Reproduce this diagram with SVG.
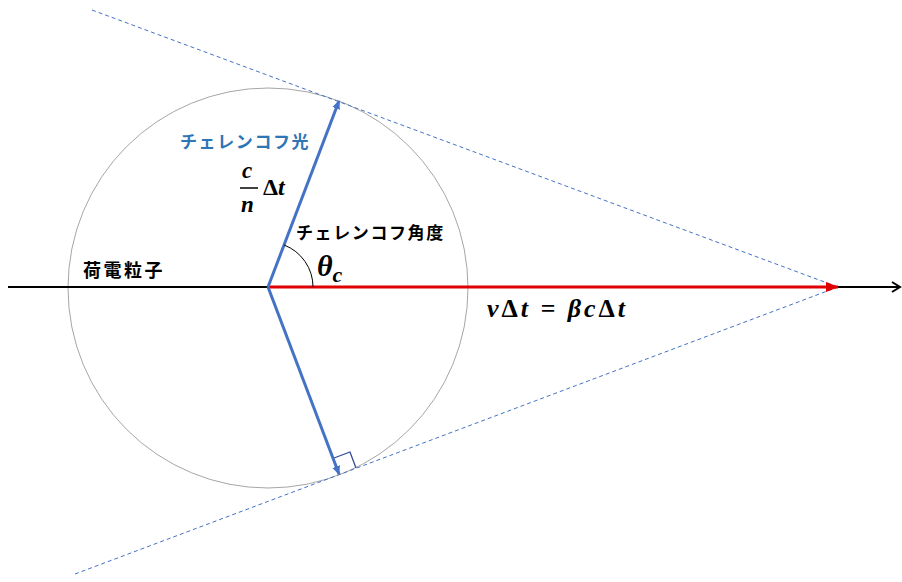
<svg xmlns="http://www.w3.org/2000/svg" width="902" height="582" viewBox="0 0 902 582">
<style>
.jp{font-family:"Noto Sans CJK JP","Noto Sans",sans-serif;font-weight:bold}
.m{font-family:"Liberation Serif","DejaVu Serif",serif;font-weight:bold;font-style:italic}
.up{font-style:normal}
.dash{stroke:#4472C4;stroke-width:1;stroke-dasharray:4 3;fill:none}
.blue{stroke:#4472C4;stroke-width:3;fill:none}
</style>
<defs>
<marker id="ab" markerWidth="10" markerHeight="10" refX="8" refY="5" orient="auto" markerUnits="userSpaceOnUse"><path d="M0,1 L9,5 L0,9 Z" fill="#4472C4"/></marker>
<marker id="ar" markerWidth="14" markerHeight="12" refX="12" refY="6" orient="auto" markerUnits="userSpaceOnUse"><path d="M0,1 L13,6 L0,11 Z" fill="#E00000"/></marker>
<marker id="ak" markerWidth="12" markerHeight="12" refX="10" refY="6" orient="auto" markerUnits="userSpaceOnUse"><path d="M2,1 L10,6 L2,11" fill="none" stroke="#000" stroke-width="2"/></marker>
</defs>
<rect width="902" height="582" fill="#fff"/>
<g id="circle"><circle cx="268" cy="288" r="200" fill="none" stroke="#A6A6A6" stroke-width="1"/></g>
<g id="connectors">
<line class="dash" x1="92" y1="10" x2="838" y2="287"/>
<line class="dash" x1="75" y1="574" x2="838" y2="287"/>
<line x1="8" y1="287" x2="900" y2="287" stroke="#000" stroke-width="2" marker-end="url(#ak)"/>
<line x1="268" y1="287" x2="838" y2="287" stroke="#E00000" stroke-width="3" marker-end="url(#ar)"/>
<line class="blue" x1="268" y1="287" x2="339" y2="101" marker-end="url(#ab)"/>
<line class="blue" x1="268" y1="287" x2="339" y2="474" marker-end="url(#ab)"/>
<path d="M334,458 L350,452 L356,468" fill="none" stroke="#2F4B9A" stroke-width="1.3"/>
<path d="M313,287 A45,45 0 0,0 284,245" fill="none" stroke="#000" stroke-width="1"/>
</g>
<g id="labels">
<text class="jp" x="180" y="148" font-size="17" letter-spacing="1.6" fill="#2E75B6">チェレンコフ光</text>
<text class="m" x="242" y="178" font-size="23">c</text>
<line x1="240" y1="188" x2="258" y2="188" stroke="#000" stroke-width="1.5"/>
<text class="m" x="241" y="212" font-size="23">n</text>
<text class="m" x="263" y="195" font-size="24"><tspan class="up">Δ</tspan>t</text>
<text class="jp" x="296" y="239" font-size="17" letter-spacing="1.6" fill="#000">チェレンコフ角度</text>
<text class="m" x="317" y="276" font-size="30">θ<tspan font-size="22" dy="6">c</tspan></text>
<text class="jp" x="83" y="277" font-size="18" letter-spacing="2.5" fill="#000">荷電粒子</text>
<text class="m" x="487" y="317" font-size="26" textLength="138" lengthAdjust="spacing">v<tspan class="up">Δ</tspan>t = βc<tspan class="up">Δ</tspan>t</text>
</g>
</svg>
